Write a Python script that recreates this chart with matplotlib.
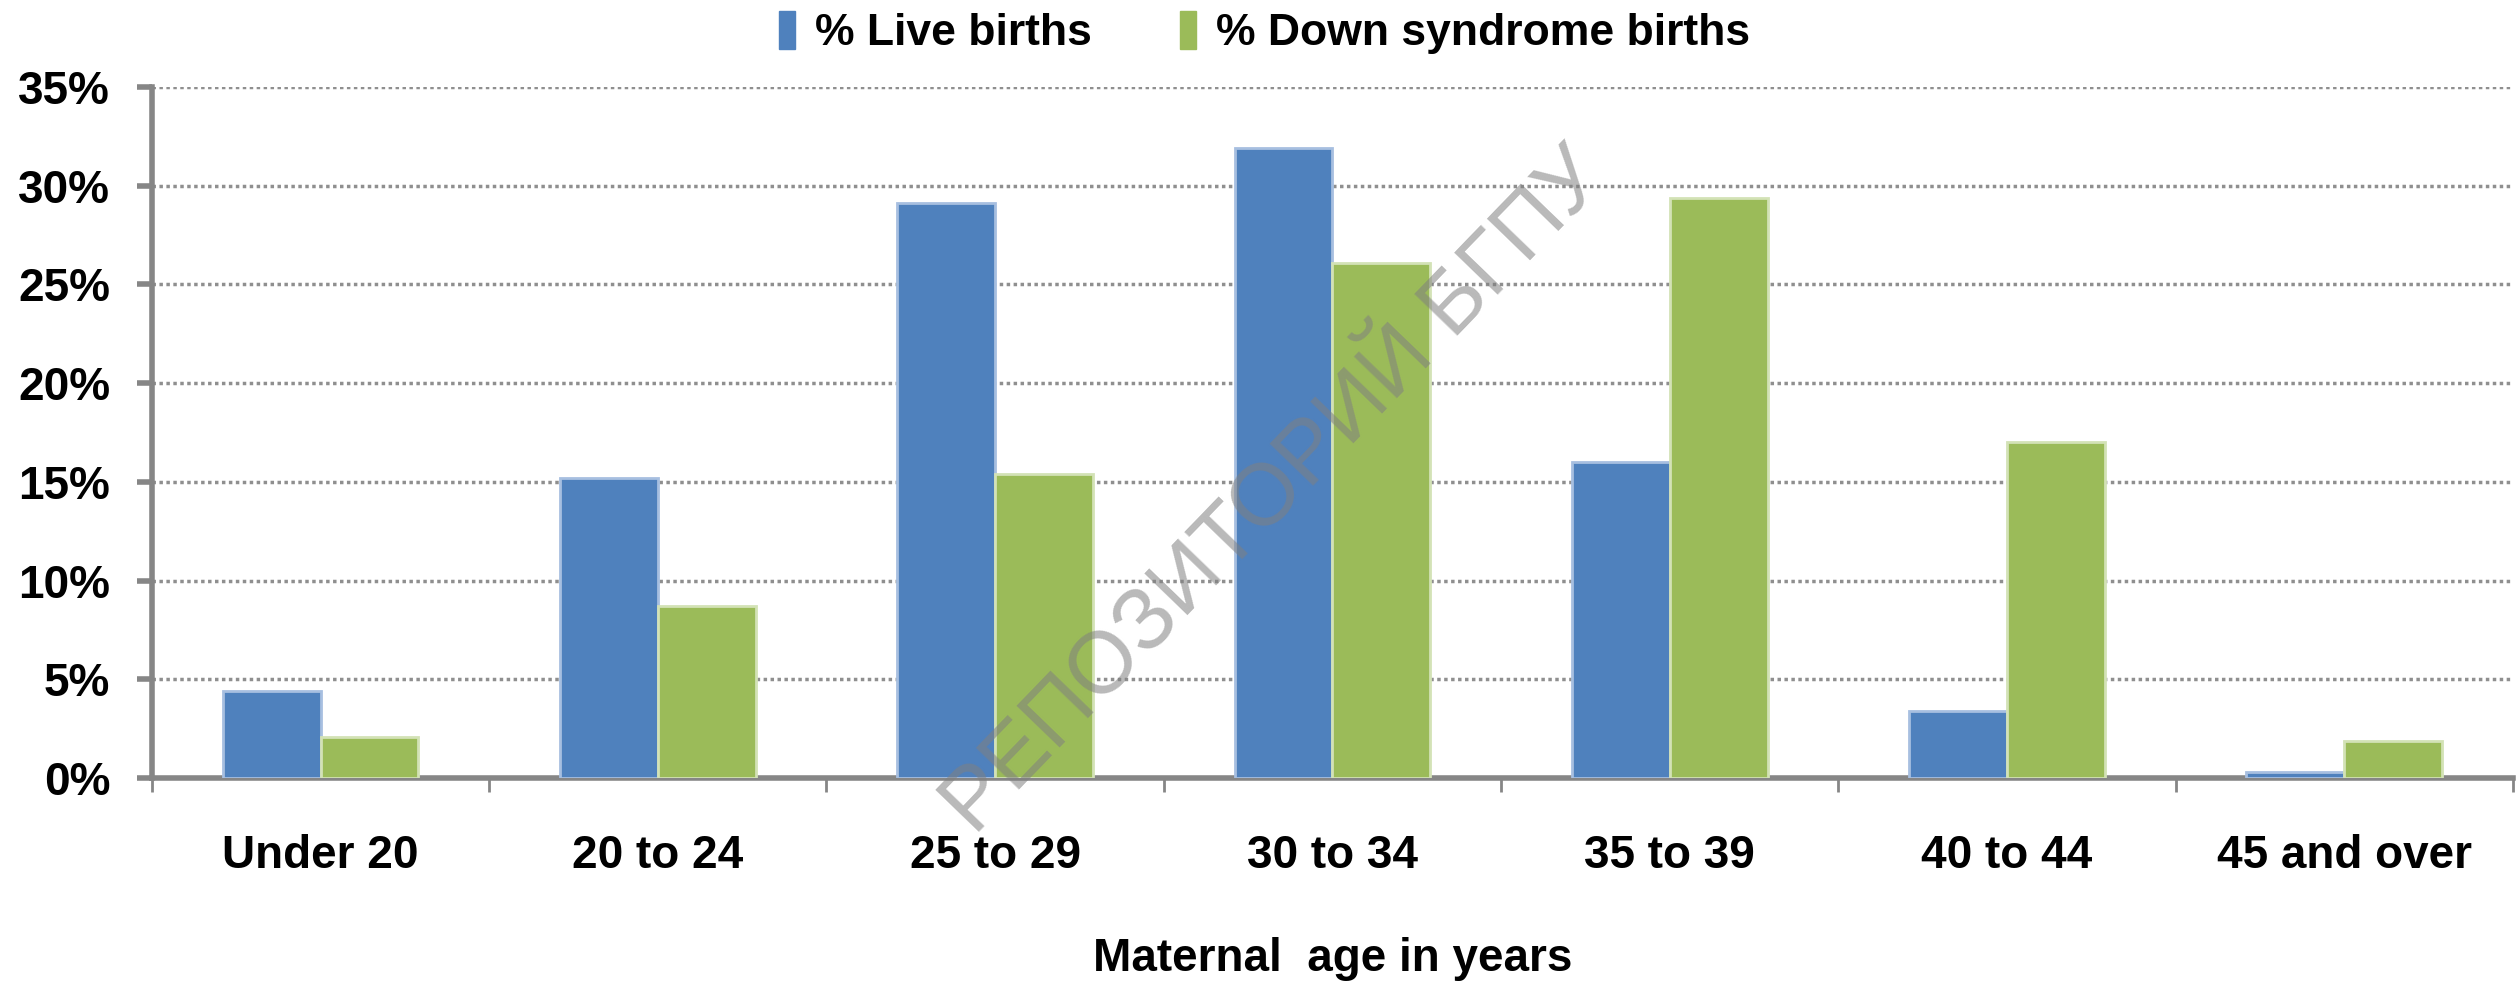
import numpy as np
import matplotlib
matplotlib.use("Agg")
import matplotlib.pyplot as plt
from matplotlib.patches import Patch
from matplotlib import font_manager

# font: narrow bold sans if it exists
names = {f.name for f in font_manager.fontManager.ttflist}
fam = ['Liberation Sans Narrow'] if 'Liberation Sans Narrow' in names else []
plt.rcParams['font.family'] = fam + ['Liberation Sans', 'DejaVu Sans']

categories = ['Under 20', '20 to 24', '25 to 29', '30 to 34', '35 to 39', '40 to 44', '45 and over']
live_births = [4.4, 15.2, 29.1, 31.9, 16.0, 3.4, 0.3]
down_births = [2.1, 8.7, 15.4, 26.1, 29.4, 17.0, 1.9]
yticks = [0, 5, 10, 15, 20, 25, 30, 35]

blue = '#4F81BD'
green = '#9BBB59'

fig = plt.figure(figsize=(25.19, 9.84), dpi=100)
ax = fig.add_axes([0.0603, 0.2093, 0.9373, 0.7023])

x = np.arange(len(categories))
w = 0.29
ax.bar(x - w / 2, live_births, w, color=blue, edgecolor='#A7BFE0', linewidth=2, zorder=3)
ax.bar(x + w / 2, down_births, w, color=green, edgecolor='#D3E2B6', linewidth=2, zorder=3)

ax.set_xlim(-0.5, len(categories) - 0.5)
ax.set_ylim(0, 35)
ax.set_yticks(yticks)
ax.set_yticklabels([f'{v}%' for v in yticks], fontsize=33, fontweight='bold')
ax.yaxis.grid(True, color='#8f8f8f', linestyle=(0, (1, 1)), linewidth=2.5, zorder=0)
ax.set_axisbelow(True)

# category boundaries as major ticks, names on minor ticks
ax.set_xticks(np.arange(-0.5, len(categories), 1.0))
ax.set_xticklabels([])
ax.set_xticks(x, minor=True)
ax.set_xticklabels(categories, minor=True, fontsize=33, fontweight='bold')
ax.tick_params(axis='x', which='major', length=10, width=2, color='#868686')
ax.tick_params(axis='x', which='minor', length=0, pad=40)
ax.tick_params(axis='y', length=11, width=4, color='#868686', pad=19)

for s in ['top', 'right']:
    ax.spines[s].set_visible(False)
for s in ['left', 'bottom']:
    ax.spines[s].set_color('#868686')
    ax.spines[s].set_linewidth(4)

fig.text(0.529, 0.025, 'Maternal  age in years', ha='center', va='center',
         fontsize=33, fontweight='bold')

handles = [Patch(color=blue, label='% Live births'),
           Patch(color=green, label='% Down syndrome births')]
fig.legend(handles=handles, loc='center', bbox_to_anchor=(0.502, 0.967), ncol=2,
           frameon=False, prop={'size': 32, 'weight': 'bold'},
           handlelength=0.36, handleheight=0.95, handletextpad=0.45, columnspacing=2.0)

# watermark
fig.text(0.506, 0.50, 'РЕПОЗИТОРИЙ БГПУ', rotation=46, ha='center', va='center',
         fontsize=63, color='#808080', alpha=0.55, family=['Liberation Sans', 'DejaVu Sans'],
         zorder=10)

fig.savefig('out.png', dpi=100)
